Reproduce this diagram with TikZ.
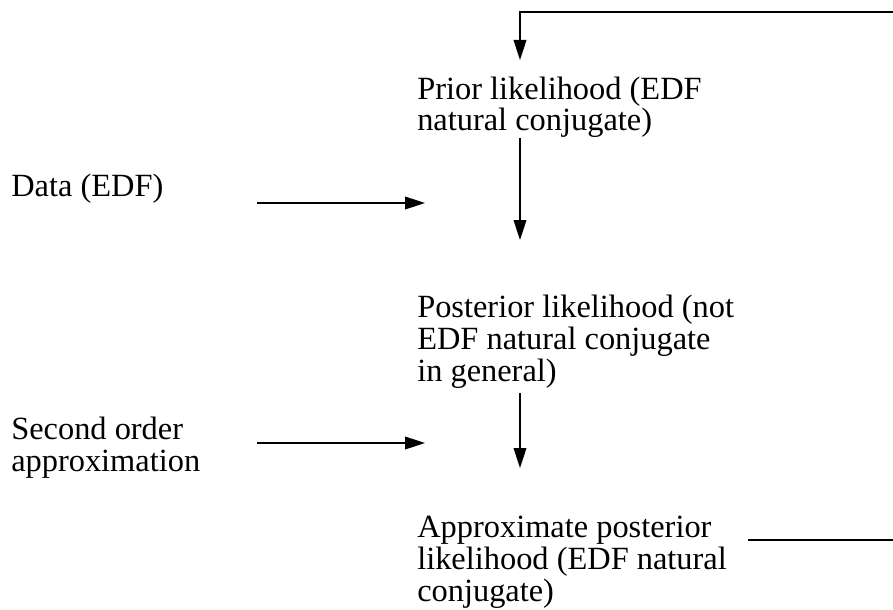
\documentclass[tikz,border=0pt]{standalone}
\usepackage{fontspec}
\setmainfont{Liberation Serif}
\usetikzlibrary{arrows.meta,positioning,calc}

\begin{document}
\begin{tikzpicture}[
  x=0.75pt, y=-0.75pt,
  >={Triangle[length=15pt,width=9.5pt]},
  every node/.append style={font=\fontsize{24.3}{24}\selectfont},
  txt/.style={inner sep=0pt, align=left, anchor=base west},
  flow/.style={->, line width=1.2pt},
]
\useasboundingbox (0,0) rectangle (893,610);

% Main column (placed by the baseline of the last line)
\node[txt] (prior) at (417,131)
  {Prior likelihood (EDF\\natural conjugate)};
\node[txt] (post) at (417,381)
  {Posterior likelihood (not\\EDF natural conjugate\\in general)};
\node[txt] (approx) at (417,601)
  {Approximate posterior\\likelihood (EDF natural\\conjugate)};

% Inputs
\node[txt] (data) at (11,196) {Data (EDF)};
\node[txt] (second) at (11,471) {Second order\\approximation};

% Arrow ends
\coordinate (d0) at (257,203);
\coordinate (d1) at (425,203);
\coordinate (s0) at (257,443);
\coordinate (s1) at (425,443);
\coordinate (v0) at (520,138);
\coordinate (v1) at (520,240);
\coordinate (w0) at (520,393);
\coordinate (w1) at (520,468);
\coordinate (f0) at (748,540);
\coordinate (f1) at (895,12);
\coordinate (f2) at (520,60);

\draw[flow] (d0) -- (d1);
\draw[flow] (s0) -- (s1);
\draw[flow] (v0) -- (v1);
\draw[flow] (w0) -- (w1);

% Feedback loop
\draw[flow] (f0) -- (f0 -| f1) -- (f1) -- (f1 -| f2) -- (f2);

\end{tikzpicture}
\end{document}
